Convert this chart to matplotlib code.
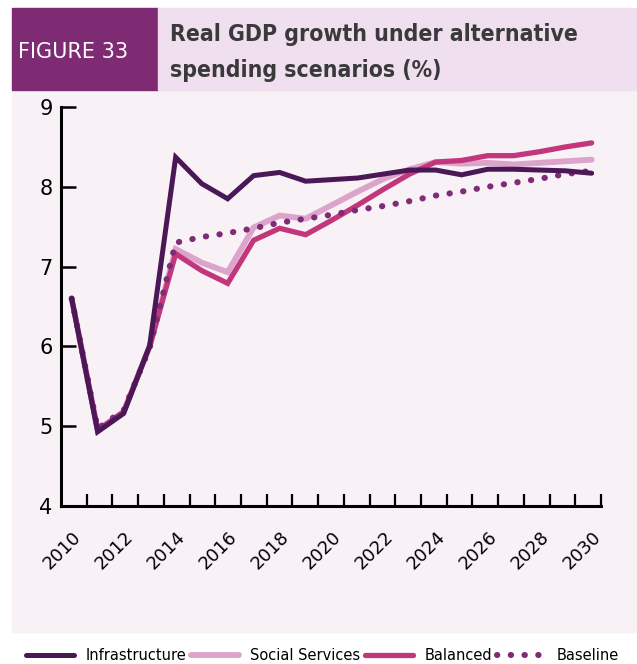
import matplotlib.pyplot as plt
import matplotlib.patches as patches
import numpy as np

# Data
years = list(range(2010, 2031))
infrastructure = [6.60, 4.93, 5.16, 6.01, 8.37, 8.04, 7.85, 8.14, 8.18, 8.07, 8.09,
                  8.11, 8.16, 8.21, 8.21, 8.15, 8.22, 8.22, 8.21, 8.20, 8.17]
social_services = [6.60, 4.95, 5.18, 6.00, 7.22, 7.05, 6.93, 7.49, 7.64, 7.60, 7.77,
                   7.94, 8.10, 8.22, 8.31, 8.29, 8.30, 8.28, 8.30, 8.32, 8.34]
balanced = [6.60, 4.95, 5.18, 6.00, 7.16, 6.95, 6.79, 7.33, 7.48, 7.40, 7.58,
            7.77, 7.97, 8.16, 8.31, 8.33, 8.39, 8.39, 8.44, 8.50, 8.55]
baseline = [6.60, 4.97, 5.20, 5.98, 7.30, 7.37, 7.42, 7.48, 7.55, 7.60, 7.65,
            7.71, 7.76, 7.82, 7.89, 7.94, 8.00, 8.05, 8.10, 8.16, 8.20]
year_labels = [str(y) for y in range(2010, 2031, 2)]
y_ticks = [4, 5, 6, 7, 8, 9]

c_infra = '#4a1757'
c_social = '#dca3cb'
c_balanced = '#c2367c'
c_base = '#7e2b78'
panel_bg = '#f8f1f6'

W, H = 637, 664
fig = plt.figure(figsize=(W / 100, H / 100), dpi=100)
fig.patch.set_facecolor('white')

# background panel + header
fig.add_artist(patches.Rectangle((12 / W, 1 - 632 / H), 1 - 12 / W, (632 - 90) / H,
                                 transform=fig.transFigure, color=panel_bg, zorder=0))
fig.add_artist(patches.Rectangle((12 / W, 1 - 90 / H), (158 - 12) / W, 82 / H,
                                 transform=fig.transFigure, color='#7e2b73', zorder=0))
fig.add_artist(patches.Rectangle((158 / W, 1 - 90 / H), 1 - 158 / W, 82 / H,
                                 transform=fig.transFigure, color='#f0dfee', zorder=0))
fig.text(18 / W, 1 - 52 / H, 'FIGURE 33', color='white', fontsize=15,
         va='center', ha='left')
fig.text(170 / W, 1 - 34 / H, 'Real GDP growth under alternative', color='#3a3a3a',
         fontsize=16.5, fontweight='bold', va='center', ha='left', fontstretch='condensed')
fig.text(170 / W, 1 - 70 / H, 'spending scenarios (%)', color='#3a3a3a',
         fontsize=16.5, fontweight='bold', va='center', ha='left', fontstretch='condensed')

ax = fig.add_axes([61 / W, 1 - 506 / H, (601 - 61) / W, (506 - 107) / H])
ax.set_facecolor('none')

x0, x1 = 2009.59, 2030.36
ax.plot(years, social_services, color=c_social, lw=4.2, solid_capstyle='round',
        solid_joinstyle='miter', label='Social Services', zorder=2)
ax.plot(years, balanced, color=c_balanced, lw=3.8, solid_capstyle='round',
        solid_joinstyle='miter', label='Balanced', zorder=3)
ax.plot(years, baseline, color=c_base, lw=4.4, linestyle=(0, (0.05, 2.2)),
        dash_capstyle='round', label='Baseline', zorder=4)
ax.plot(years, infrastructure, color=c_infra, lw=3.6, solid_capstyle='round',
        solid_joinstyle='miter', label='Infrastructure', zorder=5)

ax.set_xlim(x0, x1)
ax.set_ylim(4, 9)
ax.set_yticks(y_ticks)
ax.set_yticklabels([str(v) for v in y_ticks], fontsize=15)

# tick marks at category boundaries, labels at even years
step = (x1 - x0) / 21
ax.set_xticks([x0 + step * (k + 1) for k in range(21)], minor=True)
ax.set_xticks(list(range(2010, 2031, 2)))
ax.set_xticklabels(year_labels, fontsize=13, rotation=45, ha='right', va='top',
                   rotation_mode='anchor')
ax.tick_params(axis='x', which='major', length=0, pad=16)
ax.tick_params(axis='x', which='minor', direction='in', length=8.5, width=1.6)
ax.tick_params(axis='y', direction='in', length=11, width=1.8, pad=6)
for s in ['top', 'right']:
    ax.spines[s].set_visible(False)
for s in ['left', 'bottom']:
    ax.spines[s].set_linewidth(2.2)

h, l = ax.get_legend_handles_labels()
order = [3, 0, 1, 2]
fig.legend([h[i] for i in order], [l[i] for i in order], loc='center',
           bbox_to_anchor=(0.506, 1 - 656 / H), ncol=4, frameon=False,
           fontsize=10.5, handlelength=3.3, handletextpad=0.75, columnspacing=0.35)

fig.savefig('out.png', dpi=100)
